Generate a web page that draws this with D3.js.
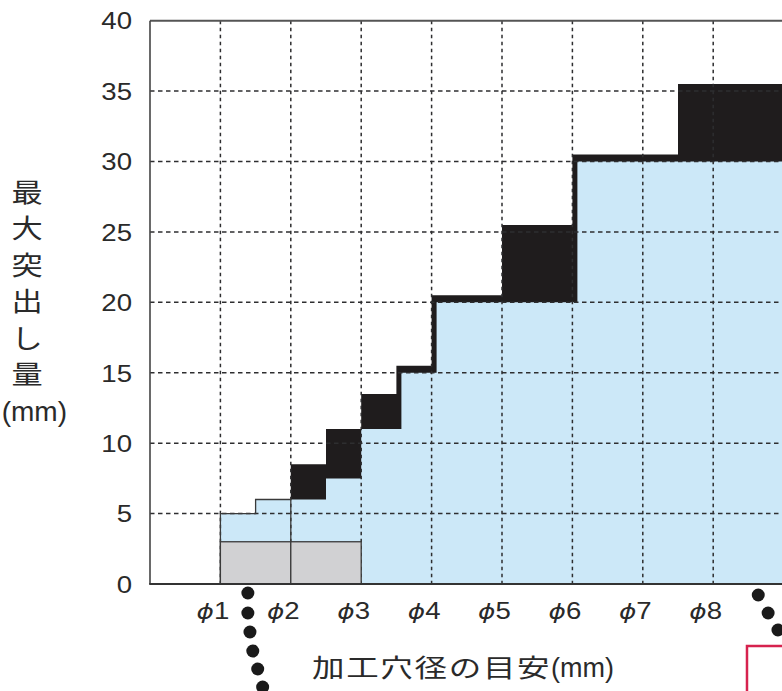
<!DOCTYPE html>
<html><head><meta charset="utf-8">
<script src="https://cdn.jsdelivr.net/npm/d3@7"></script>
<style>
html,body{margin:0;padding:0;background:#fff;}
svg{display:block;overflow:hidden;}
</style></head>
<body>
<svg id="chart" width="782" height="691"></svg>
<script>
// ---- data ----
const segStart   = [1, 1.5, 2, 2.5, 3, 3.5, 4, 5, 6, 7.5];
const segEnd     = [1.5, 2, 2.5, 3, 3.5, 4, 5, 6, 7.5, 10];
const blueTop    = [5, 6, 6, 7.5, 11, 15, 20, 20, 30, 30];
const blackTop   = [null, null, 8.5, 11, 13.5, 15.5, 20.5, 25.5, 30.5, 35.5];
const grayStart  = [1, 2];
const grayEnd    = [2, 3];
const grayTop    = [3, 3];
const yTicks     = [0, 5, 10, 15, 20, 25, 30, 35, 40];
const xTicks     = [1, 2, 3, 4, 5, 6, 7, 8];
const xGrid      = [1, 2, 3, 4, 5, 6, 7, 8, 9];
const yTitleChars = ["最", "大", "突", "出", "し", "量"];
const yTitleUnit = "(mm)";
const xTitleMain = "加工穴径の目安";
const xTitleUnit = "(mm)";

// ---- layout ----
const W = 782, H = 691;
const L = 150, T = 20.7, B = 584, unitW = 70.4;
const SX = 1.2;             // horizontal text stretch
const EDGE = 5;             // black step edge thickness (px)
const svg = d3.select("#chart");
const x = d3.scaleLinear().domain([0, 10]).range([L, L + unitW * 10]);
const y = d3.scaleLinear().domain([0, 40]).range([B, T]);
const LATIN = "'Liberation Sans', Arial, Helvetica, sans-serif";
const CJK = "'Noto Sans CJK JP', 'Noto Sans CJK SC', sans-serif";
const INK = "#2a2a2a";

svg.append("rect").attr("width", W).attr("height", H).attr("fill", "#fff");

const n = segStart.length;
const line = d3.line();

// black upper step area
{
  const pts = [];
  const first = blackTop.findIndex(v => v != null);
  pts.push([x(segStart[first]), y(0)]);
  for (let i = first; i < n; i++) {
    pts.push([x(segStart[i]), y(blackTop[i])]);
    pts.push([x(segEnd[i]), y(blackTop[i])]);
  }
  pts.push([x(segEnd[n - 1]), y(0)]);
  svg.append("path").attr("d", line(pts) + "Z").attr("fill", "#1f1c1d");
}

// blue lower step area (rises shifted where the black edge shows)
const leftPx = segStart.map((s, i) => {
  if (i === 0 || blackTop[i] == null) return x(s);
  const prevBlack = blackTop[i - 1];
  return (prevBlack != null && prevBlack < blueTop[i]) ? x(s) + EDGE : x(s);
});
{
  const pts = [[leftPx[0], y(0)], [leftPx[0], y(blueTop[0])]];
  for (let i = 1; i < n; i++) {
    pts.push([leftPx[i], y(blueTop[i - 1])]);
    pts.push([leftPx[i], y(blueTop[i])]);
  }
  pts.push([x(segEnd[n - 1]), y(blueTop[n - 1])]);
  pts.push([x(segEnd[n - 1]), y(0)]);
  svg.append("path").attr("d", line(pts) + "Z").attr("fill", "#cce8f8");
}

// grid
const grid = svg.append("g").attr("stroke", "#2e2e30").attr("stroke-width", 1.5).attr("fill", "none");
grid.selectAll("line.h").data(yTicks.filter(v => v > 0 && v < 40)).join("line")
  .attr("class", "h")
  .attr("x1", L).attr("x2", W + 10)
  .attr("y1", d => y(d)).attr("y2", d => y(d))
  .attr("stroke-dasharray", "4.5,3.5");
grid.selectAll("line.v").data(xGrid).join("line")
  .attr("class", "v")
  .attr("x1", d => x(d)).attr("x2", d => x(d))
  .attr("y1", y(40)).attr("y2", y(0))
  .attr("stroke-dasharray", "3.5,3.5");

// thin outline of the plain blue part (no black above)
{
  const idx = d3.range(n).filter(i => blackTop[i] == null);
  const pts = [[x(segStart[idx[0]]), y(0)]];
  idx.forEach(i => {
    pts.push([x(segStart[i]), y(blueTop[i])]);
    pts.push([x(segEnd[i]), y(blueTop[i])]);
  });
  pts.push([x(segEnd[idx[idx.length - 1]]), y(0)]);
  svg.append("path").attr("d", line(pts)).attr("fill", "none")
    .attr("stroke", "#3a3a3a").attr("stroke-width", 1.3);
}

// gray blocks
svg.selectAll("rect.gray").data(grayStart).join("rect")
  .attr("class", "gray")
  .attr("x", d => x(d))
  .attr("width", (d, i) => x(grayEnd[i]) - x(d))
  .attr("y", (d, i) => y(grayTop[i]))
  .attr("height", (d, i) => y(0) - y(grayTop[i]))
  .attr("fill", "#d1d1d3").attr("stroke", "#3a3a3a").attr("stroke-width", 1.3);

// frame
const frame = svg.append("g").attr("fill", "none");
frame.append("line").attr("x1", L).attr("x2", W + 10).attr("y1", T).attr("y2", T)
  .attr("stroke", "#555").attr("stroke-width", 2);
frame.append("line").attr("x1", L).attr("x2", L).attr("y1", T).attr("y2", B)
  .attr("stroke", "#444").attr("stroke-width", 1.6);
frame.append("line").attr("x1", L - 0.8).attr("x2", W + 10).attr("y1", B).attr("y2", B)
  .attr("stroke", "#333").attr("stroke-width", 2);

// y axis labels
const yAxis = svg.append("g").attr("transform", `translate(${L},0)`)
  .call(d3.axisLeft(y).tickValues(yTicks).tickSize(0).tickPadding(0));
yAxis.select(".domain").remove();
yAxis.selectAll("text")
  .attr("x", 0).attr("dy", "0.36em")
  .attr("transform", `translate(-18,0) scale(${SX},1)`)
  .attr("font-family", LATIN).attr("font-size", 23).attr("fill", INK);

// x axis labels
const xAxis = svg.append("g").attr("transform", `translate(0,${B})`)
  .call(d3.axisBottom(x).tickValues(xTicks).tickSize(0).tickPadding(0));
xAxis.select(".domain").remove();
xAxis.selectAll("text").each(function (d) {
  const t = d3.select(this);
  t.text(null).attr("y", 0).attr("dy", 0)
    .attr("transform", `translate(-8,35) scale(${SX},1)`)
    .attr("font-family", LATIN).attr("font-size", 23).attr("fill", INK);
  t.append("tspan").attr("font-style", "italic")
    .attr("font-family", "'DejaVu Sans', sans-serif").attr("font-size", 22).text("ϕ");
  t.append("tspan").text(d);
});

// y title (vertical)
const yt = svg.append("g").attr("font-family", CJK).attr("fill", INK);
yTitleChars.forEach((c, i) => {
  yt.append("text")
    .attr("transform", `translate(27,${192 + i * 36.5}) scale(1.2,1)`)
    .attr("text-anchor", "middle").attr("dy", "0.38em")
    .attr("font-size", 26).text(c);
});
yt.append("text")
  .attr("transform", `translate(67,${411})`)
  .attr("text-anchor", "end").attr("dy", "0.36em")
  .attr("font-family", LATIN).attr("font-size", 28).text(yTitleUnit);

// x title
svg.append("text")
  .attr("transform", `translate(312,677) scale(1.3,1)`)
  .attr("font-family", CJK).attr("font-size", 25).attr("letter-spacing", 1.3)
  .attr("fill", INK).text(xTitleMain);
svg.append("text")
  .attr("transform", `translate(551,677)`)
  .attr("font-family", LATIN).attr("font-size", 27)
  .attr("fill", INK).text(xTitleUnit);

// decorative leader dots and callout box
const leaderA = [[1.39, 9], [1.39, 29], [1.42, 48], [1.46, 67], [1.53, 85], [1.60, 103]];
const leaderB = [[8.64, 11], [8.78, 29], [8.92, 46]];
svg.selectAll("circle.dot").data(leaderA.concat(leaderB)).join("circle")
  .attr("class", "dot")
  .attr("cx", d => x(d[0])).attr("cy", d => B + d[1]).attr("r", 6.5)
  .attr("fill", "#1a1a1a");
svg.append("rect").attr("x", x(8.48)).attr("y", B + 62).attr("width", 200).attr("height", 100)
  .attr("fill", "none").attr("stroke", "#d6224e").attr("stroke-width", 2.5);
</script>
</body></html>
